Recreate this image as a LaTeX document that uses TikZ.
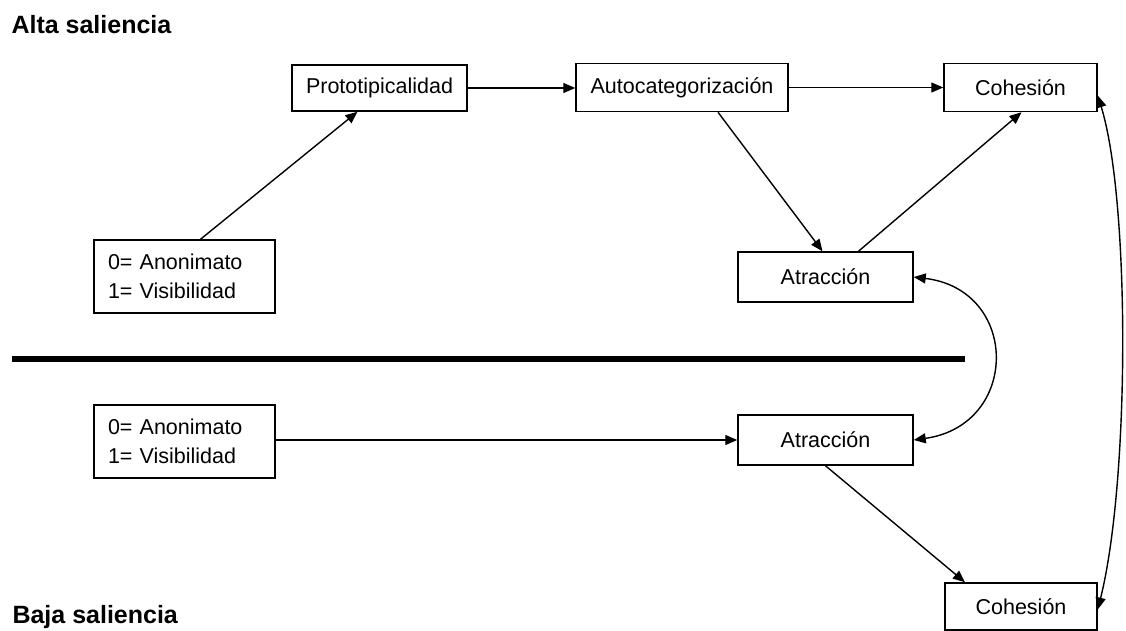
\documentclass[tikz,border=0pt]{standalone}
\usepackage{fontspec}
\setmainfont{Liberation Sans}
\usetikzlibrary{arrows.meta}
\begin{document}
\begin{tikzpicture}[x=1pt,y=-1pt,
  box/.style={draw,line width=1.5pt,minimum height=46pt,inner sep=0pt,font=\fontsize{21.5}{25}\selectfont},
  anonbox/.style={box,minimum width=181pt,minimum height=73pt,inner xsep=14pt,text width=153pt,align=left,font=\fontsize{21.5}{29}\selectfont},
  conn/.style={line width=1.4pt,-{Triangle[length=12pt,width=10pt]}},
  both/.style={line width=1.4pt,{Triangle[length=12pt,width=10pt]}-{Triangle[length=12pt,width=10pt]}},
  title/.style={font=\bfseries\fontsize{25}{29}\selectfont,anchor=west}]
\useasboundingbox[fill=white] (0,0) rectangle (1126,631);
\node[title] (alta) at (8,25) {Alta saliencia};
\node[title] (baja) at (9,617) {Baja saliencia};
\node[box,minimum width=175pt] (proto) at (379.5,88) {Prototipicalidad};
\node[box,minimum width=212pt,minimum height=48pt] (auto) at (682,87.5) {Autocategorización};
\node[box,minimum width=153pt,minimum height=48pt] (coh1) at (1020.5,87.5) {Cohesión};
\node[anonbox] (anon1) at (184.5,276.5) {0= Anonimato\\1= Visibilidad};
\node[box,minimum width=175pt,minimum height=50pt] (atr1) at (825.5,277) {Atracción};
\node[anonbox] (anon2) at (184.5,441.5) {0= Anonimato\\1= Visibilidad};
\node[box,minimum width=175pt,minimum height=50pt] (atr2) at (825.5,440) {Atracción};
\node[box,minimum width=152pt,minimum height=47pt] (coh2) at (1021,606.5) {Cohesión};
\coordinate (l1) at (12,359);
\coordinate (l2) at (965,359);
\draw[line width=5.5pt] (l1) -- (l2);
\draw[conn] ([xshift=16pt]anon1.north) -- ([xshift=-22pt]proto.south);
\draw[conn] (proto.east) -- (proto.east -| auto.west);
\draw[conn] (auto.east) -- (coh1.west);
\draw[conn] ([xshift=36pt]auto.south) -- ([xshift=-3pt]atr1.north);
\draw[conn] ([xshift=33pt]atr1.north) -- ([xshift=1pt]coh1.south);
\draw[both] (atr1.east) .. controls (1020,290) and (1020,425) .. (atr2.east);
\draw[conn] (anon2.east |- atr2.west) -- (atr2.west);
\draw[conn] ([xshift=0pt]atr2.south) -- ([xshift=-56pt]coh2.north);
\draw[both] ([yshift=-8pt]coh1.east) .. controls (1130,200) and (1130,480) .. ([yshift=-3pt]coh2.east);
\end{tikzpicture}
\end{document}
